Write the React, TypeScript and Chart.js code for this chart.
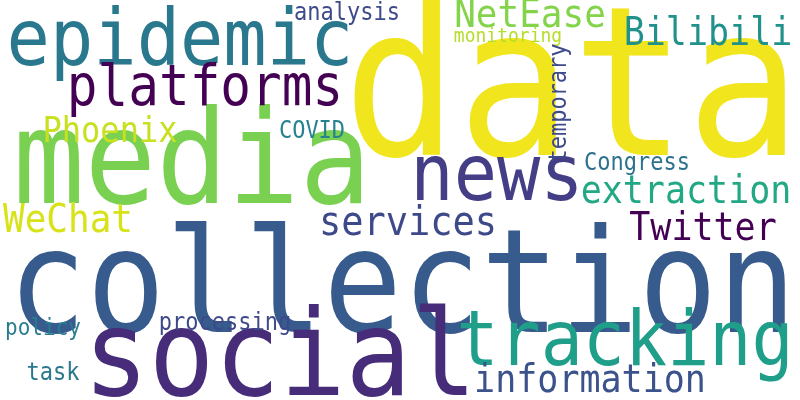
import React, { useEffect, useRef } from "react";
import { Chart, registerables } from "chart.js";
Chart.register(...registerables);

const words = ["data","collection","social","media","epidemic","platforms","news","tracking","information","NetEase","Bilibili","analysis","monitoring","temporary","Phoenix","COVID","extraction","Congress","WeChat","services","Twitter","policy","processing","task"];
const xs = [572,402,280,192,180,205,497,625,590,530,708,347,508,572,110,312,686,637,68,408,703,43,225,53];
const ys = [155,332,395,203,65,105,200,365,392,27,45,20,42,103,142,138,203,170,232,235,240,335,330,380];
const sizes = [190,131,109,119,72,51,72,70,35,36,35,22,18,22,32,22,35,22,36,37,35,21,22,22];
const rotations = [0,0,0,0,0,0,0,0,0,0,0,0,0,-90,0,0,0,0,0,0,0,0,0,0];
const colors = ["#f1e51d","#375b8d","#472c7a","#7ad151","#2a788e","#440154","#433e85","#1f9e89","#3b528b","#84d44b","#21918c","#3e4a89","#b5de2b","#3e4a89","#c8e020","#26828e","#22a884","#2c728e","#d8e219","#3e4989","#440154","#287c8e","#3e4989","#2a788e"];

const textPlugin = {
  id: "wordText",
  afterDatasetsDraw(chart: any) {
    const ctx = chart.ctx;
    const meta = chart.getDatasetMeta(0);
    meta.data.forEach((pt: any, i: number) => {
      ctx.save();
      ctx.translate(pt.x, pt.y);
      ctx.rotate((rotations[i] * Math.PI) / 180);
      ctx.font = `${sizes[i]}px "DejaVu Sans Mono"`;
      ctx.fillStyle = colors[i];
      ctx.textAlign = "center";
      ctx.textBaseline = rotations[i] ? "bottom" : "alphabetic";
      ctx.scale(1, 1.1);
      ctx.fillText(words[i], 0, 0);
      ctx.restore();
    });
  },
};

export default function App() {
  const ref = useRef<HTMLCanvasElement>(null);
  useEffect(() => {
    document.body.style.margin = "0";
    const chart = new Chart(ref.current!, {
      type: "scatter",
      data: { datasets: [{ data: xs.map((x, i) => ({ x, y: ys[i] })), pointRadius: 0 }] },
      options: {
        animation: false,
        responsive: false,
        layout: { padding: 0 },
        plugins: { legend: { display: false }, tooltip: { enabled: false } },
        scales: {
          x: { type: "linear", min: 0, max: 800, display: false },
          y: { type: "linear", min: 0, max: 400, reverse: true, display: false },
        },
      },
      plugins: [textPlugin],
    });
    return () => chart.destroy();
  }, []);
  return <canvas ref={ref} width={800} height={400} style={{ background: "#fff", display: "block" }} />;
}
